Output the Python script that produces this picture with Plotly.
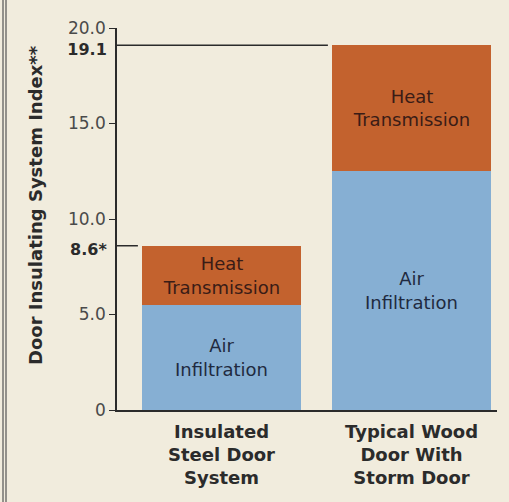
import plotly.graph_objects as go

# Door systems compared
categories = ["Insulated Steel Door System", "Typical Wood Door With Storm Door"]
category_labels = ["Insulated<br>Steel Door<br>System", "Typical Wood<br>Door With<br>Storm Door"]

# Index components per door system
air_infiltration = [5.5, 12.5]
heat_transmission = [3.1, 6.6]
totals = [round(a + h, 1) for a, h in zip(air_infiltration, heat_transmission)]
total_labels = ["8.6*", "19.1"]

# Axis ticks
y_ticks = [0, 5, 10, 15, 20]
y_tick_labels = ["0", "5.0", "10.0", "15.0", "20.0"]

BG = "#f1ecdd"
AIR = "#86afd3"
HEAT = "#c3622e"
INK = "#2b2b2b"
FONT = "DejaVu Sans, Verdana, sans-serif"
BAR_W = 0.84

fig = go.Figure()
fig.add_trace(go.Bar(
    x=categories, y=air_infiltration, width=BAR_W,
    marker=dict(color=AIR, line=dict(width=0)),
    text=["Air<br>Infiltration"] * 2, textposition="inside",
    insidetextanchor="middle", constraintext="none",
    textfont=dict(family=FONT, size=18, color="#1f2a40"),
    hoverinfo="skip",
))
fig.add_trace(go.Bar(
    x=categories, y=heat_transmission, width=BAR_W,
    marker=dict(color=HEAT, line=dict(width=0)),
    text=["Heat<br>Transmission"] * 2, textposition="inside",
    insidetextanchor="middle", constraintext="none",
    textfont=dict(family=FONT, size=18, color="#3a1c16"),
    hoverinfo="skip",
))
# Invisible trace to bind the secondary (bold total) tick axis
fig.add_trace(go.Scatter(x=categories, y=totals, yaxis="y2", mode="markers",
                         marker=dict(opacity=0), hoverinfo="skip", showlegend=False))

# Leader lines from the axis to the top of each bar
for i, t in enumerate(totals):
    fig.add_shape(type="line", xref="x", yref="y",
                  x0=-0.55, x1=i - BAR_W / 2 - 0.02, y0=t, y1=t,
                  line=dict(color=INK, width=1.5), layer="below")

# Double rule along the left edge
for xp in (3, 6):
    fig.add_shape(type="line", xref="paper", yref="paper",
                  x0=(xp - 117) / 380, x1=(xp - 117) / 380, y0=-0.3, y1=1.1,
                  line=dict(color="#555", width=1.2))

fig.add_annotation(
    text="<b>Door Insulating System Index**</b>", textangle=-90,
    xref="paper", yref="paper", x=(35 - 117) / 380, y=(410 - 205) / 382,
    xanchor="center", yanchor="middle", showarrow=False,
    font=dict(family=FONT, size=18, color=INK),
)

fig.update_layout(
    width=509, height=502,
    margin=dict(l=117, r=12, t=28, b=92),
    paper_bgcolor=BG, plot_bgcolor=BG,
    barmode="stack", showlegend=False, bargap=0,
    font=dict(family=FONT, color=INK),
    xaxis=dict(
        type="category", range=[-0.55, 1.45],
        tickvals=categories, ticktext=[f"<b>{c}</b>" for c in category_labels],
        tickfont=dict(family=FONT, size=18, color=INK),
        showline=True, linecolor=INK, linewidth=2,
        ticks="", showgrid=False, zeroline=False, fixedrange=True,
        ticklabelstandoff=4,
    ),
    yaxis=dict(
        range=[0, 20], tickvals=y_ticks, ticktext=y_tick_labels,
        tickfont=dict(family=FONT, size=17, color="#4a4a4a"),
        ticks="outside", ticklen=6, tickwidth=1.2, tickcolor=INK,
        showline=True, linecolor=INK, linewidth=1.5,
        showgrid=False, zeroline=False, fixedrange=True,
    ),
    yaxis2=dict(
        overlaying="y", side="left", range=[0, 20],
        tickvals=totals, ticktext=[f"<b>{t}</b>" for t in total_labels],
        tickfont=dict(family=FONT, size=16, color=INK),
        ticks="outside", ticklen=6, tickcolor="rgba(0,0,0,0)",
        ticklabelshift=4,
        showline=False, showgrid=False, zeroline=False, fixedrange=True,
    ),
)

fig.write_html("out.html")
